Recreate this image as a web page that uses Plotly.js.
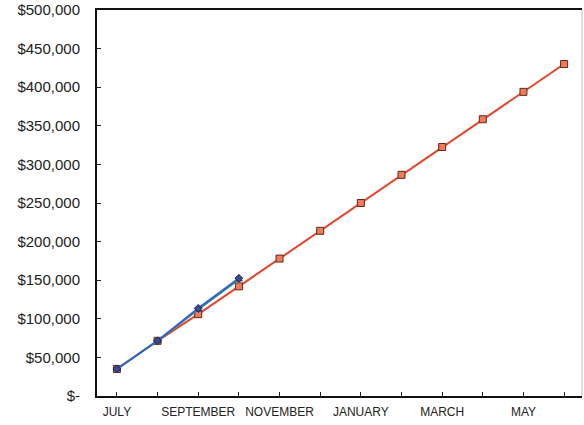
<!DOCTYPE html>
<html><head><meta charset="utf-8">
<script src="https://cdn.plot.ly/plotly-3.0.1.min.js"></script>
<style>html,body{margin:0;padding:0;background:#fff}#chart{width:584px;height:425px}</style>
</head><body><div id="chart"></div>
<script>
var months = ["JULY","AUGUST","SEPTEMBER","OCTOBER","NOVEMBER","DECEMBER","JANUARY","FEBRUARY","MARCH","APRIL","MAY","JUNE"];
var tickLabels = ["JULY","","SEPTEMBER","","NOVEMBER","","JANUARY","","MARCH","","MAY",""];
var budget = [35000, 71500, 106000, 142000, 178000, 214000, 250000, 286500, 322500, 358500, 394000, 430000];
var actualA = [35000, 71500, 112000, 151000];
var actualB = [35000, 71500, 113500, 152500];
var yTickVals = [0,50000,100000,150000,200000,250000,300000,350000,400000,450000,500000];
var yTickText = ["$-","$50,000","$100,000","$150,000","$200,000","$250,000","$300,000","$350,000","$400,000","$450,000","$500,000"];

var traces = [
  {x: months, y: budget, type:'scatter', mode:'lines+markers',
   line:{color:'#e2452c', width:2},
   marker:{symbol:'square', size:7, color:'#f07a5a', line:{color:'#5a2a1a', width:1}}},
  {x: months.slice(0,actualA.length), y: actualA, type:'scatter', mode:'lines+markers',
   line:{color:'#3a9a86', width:2},
   marker:{symbol:'triangle-up', size:6, color:'#3a9a86', line:{color:'#204a40', width:1}}},
  {x: months.slice(0,actualB.length), y: actualB, type:'scatter', mode:'lines+markers',
   line:{color:'#3366c4', width:2},
   marker:{symbol:'diamond', size:6, color:'#3a4a90', line:{color:'#1a2050', width:1}}}
];

var layout = {
  width:584, height:425,
  margin:{l:97, r:2, t:10, b:29, pad:0},
  paper_bgcolor:'#fff', plot_bgcolor:'#fff',
  showlegend:false,
  font:{family:'"Liberation Sans", Arial, sans-serif', color:'#222'},
  xaxis:{type:'category', range:[-0.49, 11.44], tickmode:'array', tickvals:months, ticktext:tickLabels,
    ticks:'inside', ticklen:4, tickcolor:'#222', showgrid:false, zeroline:false,
    showline:true, linecolor:'#111', linewidth:2, mirror:true, ticklabelstandoff:4,
    tickfont:{size:12, color:'#222'}},
  yaxis:{range:[0,500000], tickmode:'array', tickvals:yTickVals, ticktext:yTickText,
    ticks:'inside', ticklen:4, tickcolor:'#222', showgrid:false, zeroline:false,
    showline:true, linecolor:'#111', linewidth:2, ticklabelstandoff:12,
    tickfont:{size:15, color:'#222'}},
  shapes:[{type:'line', xref:'paper', yref:'paper', x0:1, x1:1, y0:0, y1:1, line:{color:'#bbb', width:1}}]
};
Plotly.newPlot('chart', traces, layout, {displayModeBar:false, staticPlot:true});
</script></body></html>
